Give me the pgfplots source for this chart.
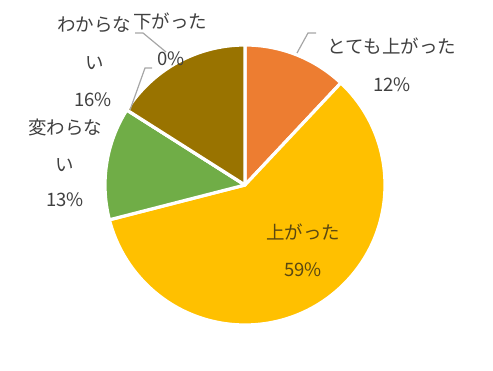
\documentclass[border=0pt]{standalone}
\usepackage{pgfplots}
\pgfplotsset{compat=1.18}
\usepackage{fontspec}
\setmainfont{Noto Sans CJK JP}
\definecolor{cOrange}{HTML}{ED7D31}
\definecolor{cYellow}{HTML}{FFC000}
\definecolor{cGreen}{HTML}{70AD47}
\definecolor{cGray}{HTML}{A5A5A5}
\definecolor{cBrown}{HTML}{997300}
\definecolor{txt}{HTML}{404040}
\definecolor{txtin}{HTML}{5A4812}
\definecolor{lead}{HTML}{A6A6A6}
\newcommand\cum{90}
% slice: value (percent), colour
\newcommand\slice[2]{%
  \pgfmathsetmacro\sa{\cum}%
  \pgfmathsetmacro\sb{\cum-3.6*#1}%
  \edef\tmp{\noexpand\filldraw[fill=#2,draw=white,line width=3.2pt,line join=round]
    (axis cs:245,186) -- (axis cs:{245+140*cos(\sa)},{186+140*sin(\sa)})
    arc[start angle=\sa,end angle=\sb,radius=140pt] -- cycle;}%
  \tmp
  \xdef\cum{\sb}%
}
\begin{document}
\begin{tikzpicture}[lbl/.style={anchor=base,inner sep=0pt,font=\fontsize{18.5}{21}\selectfont,text=txt}]
\useasboundingbox (0,0) rectangle (493pt,371pt);
\begin{axis}[
  scale only axis, width=493pt, height=371pt,
  xmin=0, xmax=493, ymin=0, ymax=371,
  hide axis, clip=false]
% values (percent), clockwise from the top
\slice{12}{cOrange}  % とても上がった
\slice{59}{cYellow}  % 上がった
\slice{13}{cGreen}   % 変わらない
\slice{0}{cGray}     % 下がった
\slice{16}{cBrown}   % わからない
% leader lines
\draw[lead,line width=1.2pt] (axis cs:297,318) -- (axis cs:308,338) -- (axis cs:316,338);
\draw[lead,line width=1.2pt] (axis cs:135,338) -- (axis cs:143,338) -- (axis cs:166,319);
\draw[lead,line width=1.2pt] (axis cs:152,303) -- (axis cs:145,303) -- (axis cs:130,261);
% labels (y = 371 - pixel centre - 7)
\node[lbl] at (axis cs:392,317) {とても上がった};
\node[lbl] at (axis cs:392,279) {12\%};
\node[lbl,text=txtin] at (axis cs:303,131) {上がった};
\node[lbl,text=txtin] at (axis cs:303,94) {59\%};
\node[lbl] at (axis cs:65,236) {変わらな};
\node[lbl] at (axis cs:65,199) {い};
\node[lbl] at (axis cs:65,164) {13\%};
\node[lbl] at (axis cs:94,339) {わからな};
\node[lbl] at (axis cs:95,301) {い};
\node[lbl] at (axis cs:93,264) {16\%};
\node[lbl] at (axis cs:170,342) {下がった};
\node[lbl] at (axis cs:171,305) {0\%};
\end{axis}
\end{tikzpicture}
\end{document}
